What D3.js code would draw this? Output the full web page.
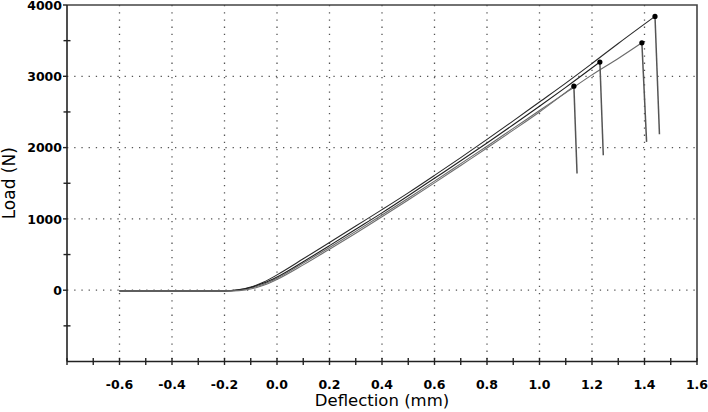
<!DOCTYPE html>
<html>
<head>
<meta charset="utf-8">
<script src="https://cdn.jsdelivr.net/npm/d3@7"></script>
<style>
  body { margin: 0; background: #fff; }
  text { font-family: "DejaVu Sans", Verdana, sans-serif; fill: #000; }
</style>
</head>
<body>
<div id="app"></div>
<script>
// deflection (mm) / load (N) for each specimen, up to the peak
const specA = [[-0.6,-10],[-0.2,-10],[-0.15,4],[-0.1,45],[-0.05,114],[0,215],[0.1,440],[0.2,670],[0.3,900],[0.4,1130],[0.5,1365],[0.6,1610],[0.7,1860],[0.8,2115],[0.9,2375],[1.0,2640],[1.1,2905],[1.2,3180],[1.3,3460],[1.44,3840]];
const specB = [[-0.6,-10],[-0.19,-10],[-0.14,2],[-0.1,30],[-0.05,84],[0,166],[0.1,380],[0.2,600],[0.3,825],[0.4,1055],[0.5,1290],[0.6,1530],[0.7,1775],[0.8,2020],[0.9,2270],[1.0,2520],[1.1,2770],[1.2,3020],[1.3,3250],[1.39,3470]];
const specC = [[-0.6,-10],[-0.2,-10],[-0.15,2],[-0.1,39],[-0.05,100],[0,185],[0.1,400],[0.2,625],[0.3,855],[0.4,1085],[0.5,1325],[0.6,1570],[0.7,1815],[0.8,2065],[0.9,2320],[1.0,2580],[1.1,2845],[1.23,3200]];
const specD = [[-0.6,-10],[-0.17,-10],[-0.12,4],[-0.08,35],[-0.04,83],[0,150],[0.1,355],[0.2,575],[0.3,800],[0.4,1030],[0.5,1265],[0.6,1505],[0.7,1750],[0.8,1995],[0.9,2245],[1.0,2500],[1.131,2862]];
// end of the drop after failure
const dropEnds = [[1.457,2188],[1.408,2080],[1.243,1893],[1.143,1636]];
const curveColors = ["#2a2a2a","#6a6a6a","#1e1e1e","#6f6f6f"];

const xTicks = [-0.6,-0.4,-0.2,0,0.2,0.4,0.6,0.8,1.0,1.2,1.4,1.6];
const xMinor = [-0.8,-0.7,-0.5,-0.3,-0.1,0.1,0.3,0.5,0.7,0.9,1.1,1.3,1.5];
const yTicks = [0,1000,2000,3000,4000];
const yMinor = [-500,500,1500,2500,3500];

const width = 708, height = 412;
const mLeft = 67, mRight = 697, mTop = 5, mBottom = 361.5;

const svg = d3.select("#app").append("svg").attr("width", width).attr("height", height);

const x = d3.scaleLinear().domain([-0.8, 1.6]).range([mLeft, mRight]);
const y = d3.scaleLinear().domain([-1000, 4000]).range([mBottom, mTop]);

// dotted grid
svg.append("g").selectAll("line")
  .data(xTicks.filter(d => d < 1.6))
  .join("line")
  .attr("x1", d => x(d)).attr("x2", d => x(d))
  .attr("y1", mTop).attr("y2", mBottom)
  .attr("stroke", "#555").attr("stroke-width", 1.3)
  .attr("stroke-dasharray", "1.3,5.9");

svg.append("g").selectAll("line")
  .data(yTicks.filter(d => d < 4000))
  .join("line")
  .attr("x1", mLeft).attr("x2", mRight)
  .attr("y1", d => y(d)).attr("y2", d => y(d))
  .attr("stroke", "#555").attr("stroke-width", 1.3)
  .attr("stroke-dasharray", "1.3,5.9");

// frame top / right
svg.append("path")
  .attr("d", `M${mLeft},${mTop}H${mRight}V${mBottom}`)
  .attr("fill", "none").attr("stroke", "#444").attr("stroke-width", 1.6);

// axes
const fmt = d => d.toFixed(1);

const xAxis = svg.append("g").attr("transform", `translate(0,${mBottom})`);
xAxis.append("line").attr("x1", mLeft).attr("x2", mRight).attr("stroke", "#222").attr("stroke-width", 1.6);
xAxis.selectAll("line.tick")
  .data(xTicks.concat(xMinor))
  .join("line").attr("class", "tick")
  .attr("x1", d => x(d)).attr("x2", d => x(d))
  .attr("y1", -3.5).attr("y2", 3.5)
  .attr("stroke", "#222").attr("stroke-width", 1.4);
xAxis.selectAll("text")
  .data(xTicks)
  .join("text")
  .attr("x", d => x(d)).attr("y", 27)
  .attr("text-anchor", "middle")
  .style("font-size", "12.5px").style("font-weight", "bold")
  .text(fmt);

const yAxis = svg.append("g").attr("transform", `translate(${mLeft},0)`);
yAxis.append("line").attr("y1", mTop).attr("y2", mBottom).attr("stroke", "#222").attr("stroke-width", 1.6);
yAxis.selectAll("line.major")
  .data(yTicks)
  .join("line").attr("class", "major")
  .attr("y1", d => y(d)).attr("y2", d => y(d))
  .attr("x1", -4).attr("x2", 0)
  .attr("stroke", "#222").attr("stroke-width", 1.4);
yAxis.selectAll("line.minor")
  .data(yMinor)
  .join("line").attr("class", "minor")
  .attr("y1", d => y(d)).attr("y2", d => y(d))
  .attr("x1", -3.5).attr("x2", 3.5)
  .attr("stroke", "#222").attr("stroke-width", 1.4);
yAxis.selectAll("text")
  .data(yTicks)
  .join("text")
  .attr("x", -5).attr("y", d => y(d))
  .attr("dy", "0.37em")
  .attr("text-anchor", "end")
  .style("font-size", "12.5px").style("font-weight", "bold")
  .text(d => d);

// axis titles
svg.append("text")
  .text("Deflection (mm)")
  .attr("x", 382).attr("y", 406)
  .attr("text-anchor", "middle")
  .style("font-size", "16.5px");

svg.append("text")
  .text("Load (N)")
  .attr("transform", `translate(15,${y(1500)}) rotate(-90)`)
  .attr("text-anchor", "middle")
  .style("font-size", "17px");

// curves
const specs = [specA, specB, specC, specD];
const line = d3.line().x(d => x(d[0])).y(d => y(d[1])).curve(d3.curveMonotoneX);

specs.forEach((s, i) => {
  const peak = s[s.length - 1];
  svg.append("path")
    .attr("d", line(s))
    .attr("fill", "none")
    .attr("stroke", curveColors[i])
    .attr("stroke-width", 1.1);
  svg.append("line")
    .attr("x1", x(peak[0])).attr("y1", y(peak[1]))
    .attr("x2", x(dropEnds[i][0])).attr("y2", y(dropEnds[i][1]))
    .attr("stroke", "#555").attr("stroke-width", 1.5);
  svg.append("circle")
    .attr("cx", x(peak[0])).attr("cy", y(peak[1]))
    .attr("r", 2.6).attr("fill", "#000");
});
</script>
</body>
</html>
